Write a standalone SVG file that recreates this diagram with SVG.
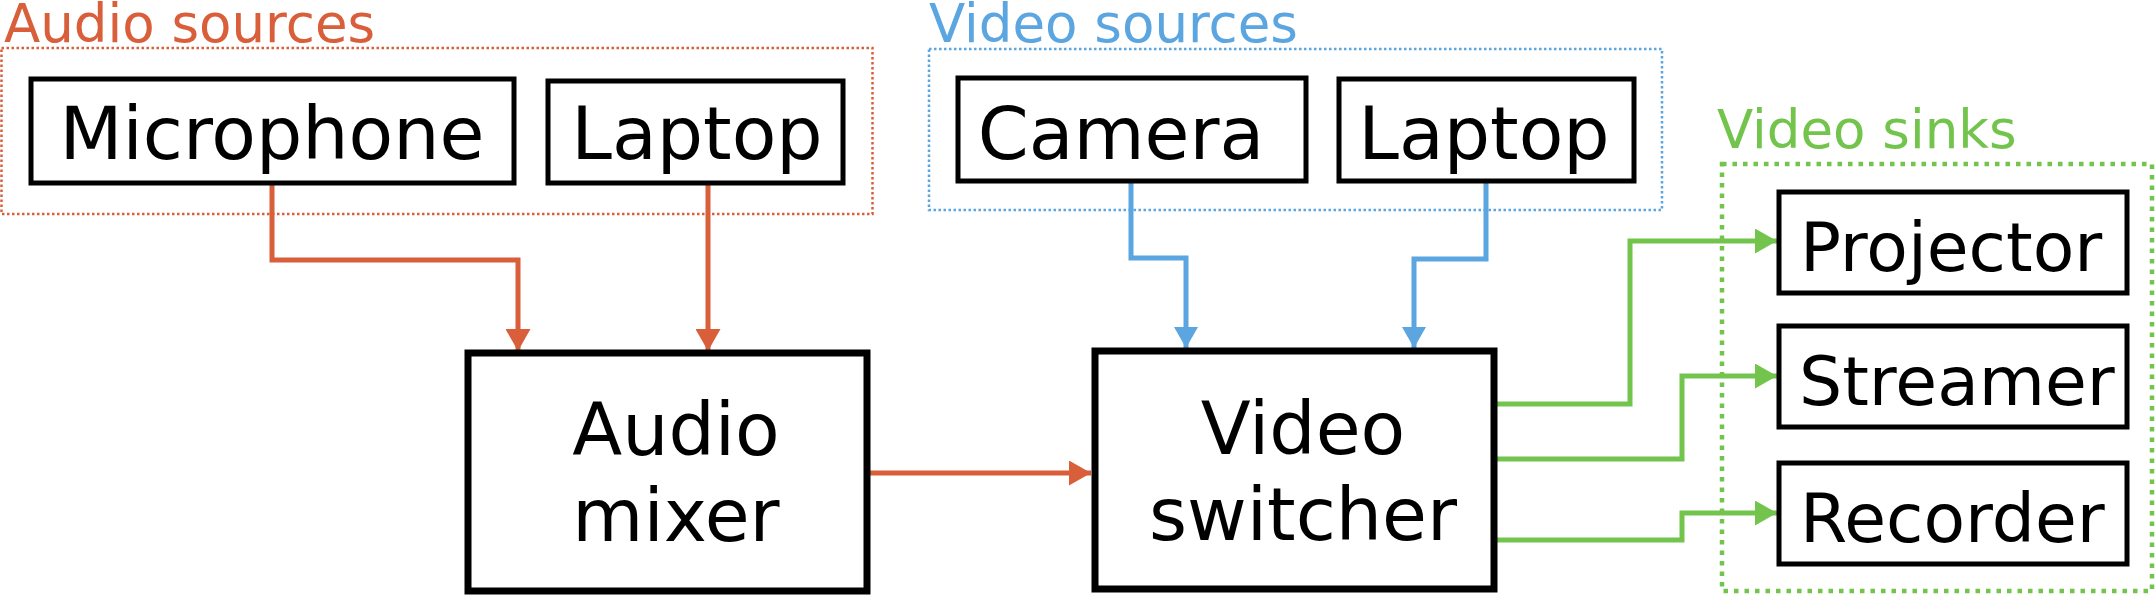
<svg xmlns="http://www.w3.org/2000/svg" width="2155" height="595" viewBox="0 0 2155 595">
<style>
  .node{fill:#fff;stroke:#000;stroke-width:5}
  .big{fill:#fff;stroke:#000;stroke-width:7}
  .t{font-family:"DejaVu Sans",sans-serif;font-size:73px;fill:#000;text-anchor:middle}
  .s{font-family:"DejaVu Sans",sans-serif;font-size:68px;fill:#000}
  .gl{font-family:"DejaVu Sans",sans-serif;font-size:53px}
  .a{fill:none;stroke:#d95f3b;stroke-width:5}
  .v{fill:none;stroke:#5ba5e0;stroke-width:5}
  .g{fill:none;stroke:#73c44c;stroke-width:5}
</style>
<defs>
  <marker id="ma" viewBox="0 0 10 10" refX="10" refY="5" markerUnits="userSpaceOnUse" markerWidth="22" markerHeight="25" preserveAspectRatio="none" orient="auto"><path d="M0,0 L10,5 L0,10 z" fill="#d95f3b"/></marker>
  <marker id="mv" viewBox="0 0 10 10" refX="10" refY="5" markerUnits="userSpaceOnUse" markerWidth="21" markerHeight="24" preserveAspectRatio="none" orient="auto"><path d="M0,0 L10,5 L0,10 z" fill="#5ba5e0"/></marker>
  <marker id="mg" viewBox="0 0 10 10" refX="10" refY="5" markerUnits="userSpaceOnUse" markerWidth="22" markerHeight="25" preserveAspectRatio="none" orient="auto"><path d="M0,0 L10,5 L0,10 z" fill="#73c44c"/></marker>
</defs>
<g id="groups">
  <g id="audio-sources">
    <rect x="1.5" y="48" width="871" height="166" fill="none" stroke="#d95f3b" stroke-width="2.5" stroke-dasharray="2.5,2.5"/>
    <text class="gl" x="4" y="42" fill="#d95f3b">Audio sources</text>
  </g>
  <g id="video-sources">
    <rect x="929" y="49" width="733" height="161" fill="none" stroke="#5ba5e0" stroke-width="2.5" stroke-dasharray="2.5,2.5"/>
    <text class="gl" x="929" y="42" fill="#5ba5e0">Video sources</text>
  </g>
  <g id="video-sinks">
    <rect x="1722" y="164" width="430" height="427" fill="none" stroke="#73c44c" stroke-width="4.5" stroke-dasharray="4.5,6"/>
    <text class="gl" x="1717" y="148" fill="#73c44c">Video sinks</text>
  </g>
</g>
<g id="connectors">
  <path class="a" d="M272,183 V260 H518 V351" marker-end="url(#ma)"/>
  <path class="a" d="M708,183 V351" marker-end="url(#ma)"/>
  <path class="a" d="M870,473 H1091" marker-end="url(#ma)"/>
  <path class="v" d="M1131,181 V258 H1186 V348" marker-end="url(#mv)"/>
  <path class="v" d="M1486,181 V259 H1414 V348" marker-end="url(#mv)"/>
  <path class="g" d="M1497,404 H1630 V241 H1777" marker-end="url(#mg)"/>
  <path class="g" d="M1497,459 H1682 V376 H1777" marker-end="url(#mg)"/>
  <path class="g" d="M1497,540 H1682 V513 H1777" marker-end="url(#mg)"/>
</g>
<g id="microphone">
  <rect class="node" x="31" y="79" width="483" height="104"/>
  <text class="t" x="272" y="159">Microphone</text>
</g>
<g id="laptop-audio">
  <rect class="node" x="548" y="81" width="295" height="102"/>
  <text class="t" x="697" y="159">Laptop</text>
</g>
<g id="camera">
  <rect class="node" x="958" y="78" width="348" height="103"/>
  <text class="t" x="1121" y="159">Camera</text>
</g>
<g id="laptop-video">
  <rect class="node" x="1339" y="79" width="295" height="102"/>
  <text class="t" x="1484" y="159">Laptop</text>
</g>
<g id="audio-mixer">
  <rect class="big" x="468" y="353" width="399" height="238"/>
  <text class="t" x="676" y="455">Audio</text>
  <text class="t" x="676" y="541">mixer</text>
</g>
<g id="video-switcher">
  <rect class="big" x="1095" y="351" width="399" height="238"/>
  <text class="t" x="1303" y="454">Video</text>
  <text class="t" x="1303" y="540">switcher</text>
</g>
<g id="projector">
  <rect class="node" x="1779" y="192" width="348" height="101"/>
  <text class="s" x="1800" y="271">Projector</text>
</g>
<g id="streamer">
  <rect class="node" x="1779" y="326" width="348" height="101"/>
  <text class="s" x="1799" y="405">Streamer</text>
</g>
<g id="recorder">
  <rect class="node" x="1779" y="463" width="348" height="101"/>
  <text class="s" x="1800" y="542">Recorder</text>
</g>
</svg>
